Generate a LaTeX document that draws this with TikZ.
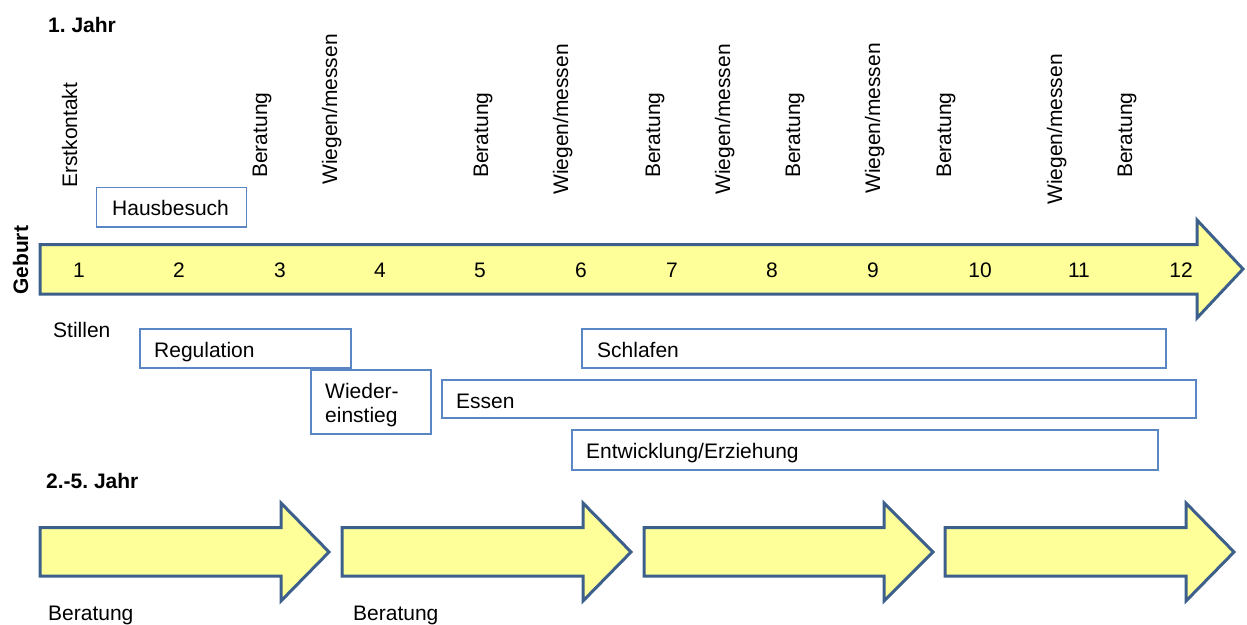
\documentclass[tikz,border=0pt]{standalone}
\usepackage{fontspec}
\setmainfont{Liberation Sans}
\frenchspacing
\definecolor{arrline}{RGB}{60,95,140}
\definecolor{arrfill}{RGB}{255,255,153}
\definecolor{boxline}{RGB}{90,135,195}
\begin{document}
\begin{tikzpicture}[x=1pt,y=-1pt,
 lbl/.style={inner sep=0pt, font=\fontsize{21}{25}\selectfont, anchor=base west},
 vlbl/.style={lbl, rotate=90},
 hd/.style={lbl, font=\fontsize{21}{25}\selectfont\bfseries},
 num/.style={inner sep=0pt, font=\fontsize{21}{25}\selectfont, anchor=base},
 bigarrow/.style={draw=arrline, fill=arrfill, line width=3pt, line join=miter},
 box/.style={draw=boxline, line width=1.3pt}]
\useasboundingbox (0,0) rectangle (1247,624);

% headings
\node[hd] (j1) at (48,32) {1.\ Jahr};
\node[hd] (j2) at (46,488) {2.-5.\ Jahr};
\node[hd, rotate=90] (geb) at (28,295) {Geburt};

% vertical labels
\node[vlbl] (v1) at (77,188) {Erstkontakt};
\node[vlbl] (v2) at (267,178) {Beratung};
\node[vlbl] (v3) at (337,185) {Wiegen/messen};
\node[vlbl] (v4) at (488,178) {Beratung};
\node[vlbl] (v5) at (568,195) {Wiegen/messen};
\node[vlbl] (v6) at (660,178) {Beratung};
\node[vlbl] (v7) at (730,195) {Wiegen/messen};
\node[vlbl] (v8) at (800,178) {Beratung};
\node[vlbl] (v9) at (880,194) {Wiegen/messen};
\node[vlbl] (v10) at (951,178) {Beratung};
\node[vlbl] (v11) at (1062,205) {Wiegen/messen};
\node[vlbl] (v12) at (1132,178) {Beratung};

% big arrow
\draw[bigarrow] (40,244.5) -- (1197,244.5) -- (1197,220) -- (1243,269) -- (1197,318) -- (1197,294) -- (40,294) -- cycle;
\foreach \x/\n in {79/1,179/2,280/3,380/4,480/5,581/6,672/7,772/8,873/9,980/10,1079/11,1181/12}
  \node[num] (n\n) at (\x,277.7) {\n};

% boxes
\draw[box] (96.5,187.5) rectangle (246.5,227);
\node[lbl] (hb) at (112,215) {Hausbesuch};

\node[lbl] (st) at (53,337) {Stillen};

\draw[box] (140,329) rectangle (351,368);
\node[lbl] (reg) at (154,357) {Regulation};

\draw[box] (311,370) rectangle (431,434);
\node[lbl] (wi1) at (325,398) {Wieder-};
\node[lbl] (wi2) at (325,422) {einstieg};

\draw[box] (442,380) rectangle (1196,418);
\node[lbl] (es) at (456,408) {Essen};

\draw[box] (582,329) rectangle (1166,368);
\node[lbl] (sc) at (597,357) {Schlafen};

\draw[box] (572,430) rectangle (1158,470);
\node[lbl] (en) at (586,458) {Entwicklung/Erziehung};

% small arrows
\foreach \l/\b/\t in {40/281/329, 342/583/631, 644/884/933, 945/1186/1234}
  \draw[bigarrow] (\l,527.5) -- (\b,527.5) -- (\b,503) -- (\t,552) -- (\b,601) -- (\b,576) -- (\l,576) -- cycle;

\node[lbl] (b1) at (48,620) {Beratung};
\node[lbl] (b2) at (353,620) {Beratung};
\end{tikzpicture}
\end{document}
